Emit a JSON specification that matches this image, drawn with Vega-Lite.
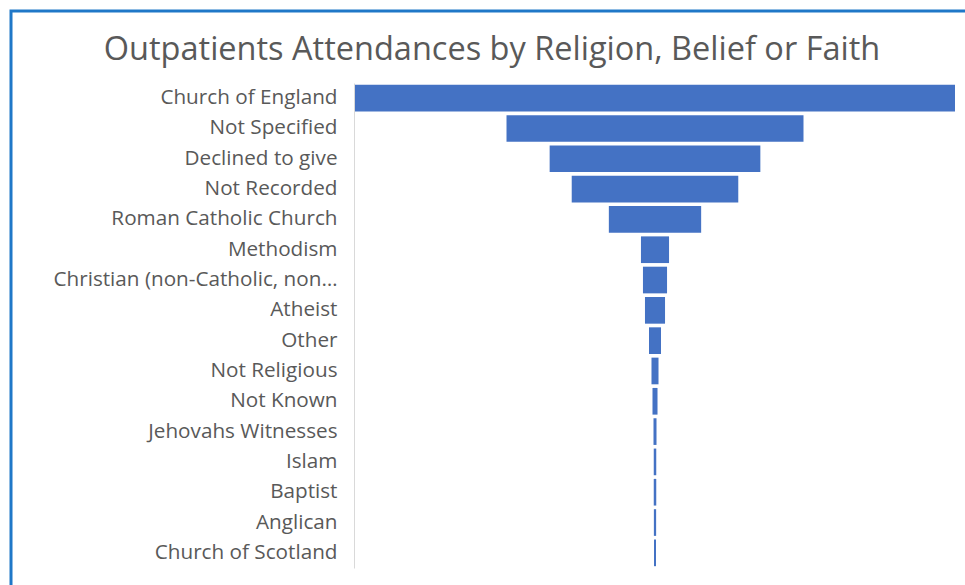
{
  "$schema": "https://vega.github.io/schema/vega-lite/v6.json",
  "autosize": {"type": "none"},
  "padding": {"left": 11, "top": 11, "right": 0, "bottom": 0},
  "width": 970,
  "height": 590,
  "background": "white",
  "title": {
    "text": "Outpatients Attendances by Religion, Belief or Faith",
    "font": "Open Sans",
    "fontSize": 32.5,
    "fontWeight": "normal",
    "color": "#595959",
    "anchor": "middle",
    "baseline": "alphabetic",
    "offset": -81,
    "dx": -4
  },
  "data": {
    "values": [
      {"religion": "Church of England", "attendances": 119600},
      {"religion": "Not Specified", "attendances": 59200},
      {"religion": "Declined to give", "attendances": 42000},
      {"religion": "Not Recorded", "attendances": 33200},
      {"religion": "Roman Catholic Church", "attendances": 18400},
      {"religion": "Methodism", "attendances": 5600},
      {"religion": "Christian (non-Catholic, non-specific)", "attendances": 4800},
      {"religion": "Atheist", "attendances": 4000},
      {"religion": "Other", "attendances": 2400},
      {"religion": "Not Religious", "attendances": 1400},
      {"religion": "Not Known", "attendances": 1000},
      {"religion": "Jehovahs Witnesses", "attendances": 600},
      {"religion": "Islam", "attendances": 500},
      {"religion": "Baptist", "attendances": 500},
      {"religion": "Anglican", "attendances": 450},
      {"religion": "Church of Scotland", "attendances": 400}
    ]
  },
  "mark": {"type": "bar", "color": "#4472C4"},
  "encoding": {
    "y": {
      "field": "religion",
      "type": "nominal",
      "sort": null,
      "title": null,
      "scale": {"range": [72, 557], "paddingInner": 0.12, "paddingOuter": 0.06},
      "axis": {
        "offset": -343,
        "ticks": false,
        "domainColor": "#D9D9D9",
        "domainWidth": 1,
        "labelFont": "Open Sans",
        "labelFontSize": 20.7,
        "labelColor": "#595959",
        "labelPadding": 17,
        "labelLimit": 288
      }
    },
    "x": {
      "field": "attendances",
      "type": "quantitative",
      "stack": "center",
      "title": null,
      "axis": null,
      "scale": {"range": [344, 944], "domain": [0, 119600], "nice": false, "zero": false}
    }
  },
  "config": {
    "view": {"stroke": "#1F78C8", "strokeWidth": 3}
  }
}
